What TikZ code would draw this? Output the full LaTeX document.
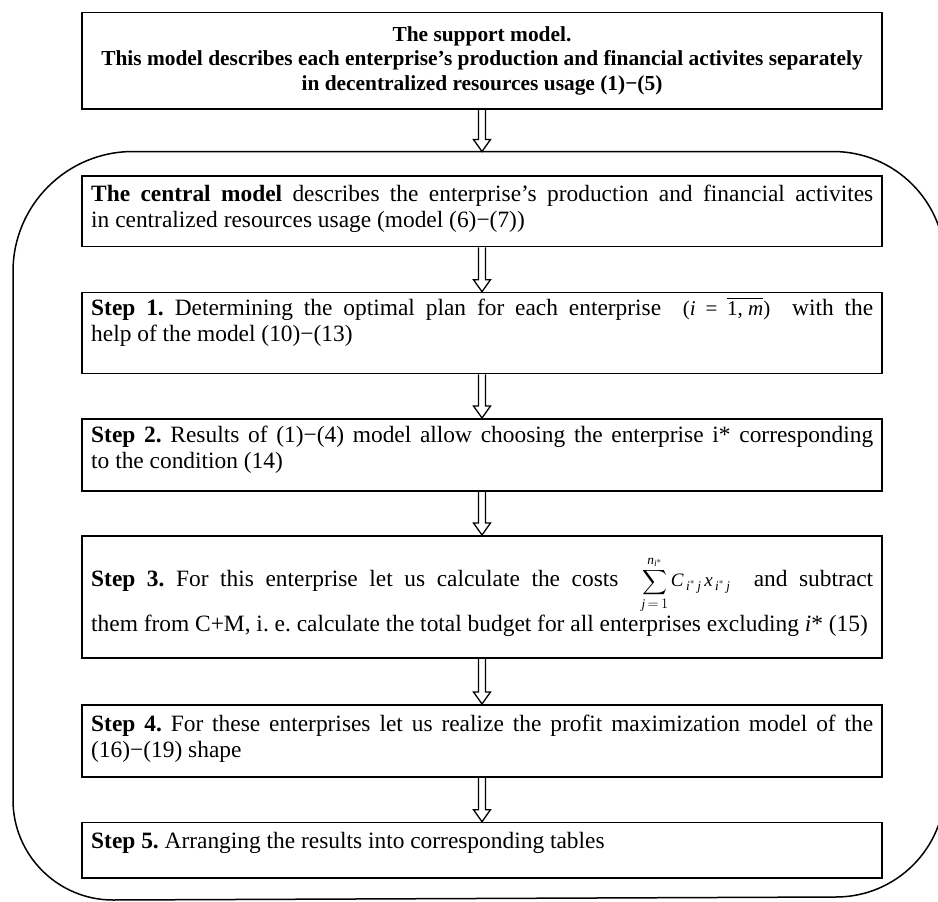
\documentclass[tikz,border=0pt]{standalone}
\usepackage{amsmath}
\usepackage{fontspec}
\setmainfont{Liberation Serif}
\frenchspacing
\newcommand\ti[1]{\text{\itshape #1}}
\newcommand\blockarrow[2]{\draw[blk] ([xshift=-3.5pt]#1) -- ([xshift=-3.5pt,yshift=12pt]#2) -- ([xshift=-8.5pt,yshift=12pt]#2) -- (#2) -- ([xshift=8.5pt,yshift=12pt]#2) -- ([xshift=3.5pt,yshift=12pt]#2) -- ([xshift=3.5pt]#1);}
\begin{document}
\begin{tikzpicture}[x=1pt,y=-1pt,
  box/.style={draw,line width=1.6pt,minimum width=800pt,inner sep=0pt,anchor=north},
  txt/.style={text width=782pt,align=justify,inner sep=0pt,anchor=base west,font=\fontsize{23.4}{26}\selectfont\frenchspacing},
  blk/.style={draw,line width=1.3pt,line join=miter},
  container/.style={draw,line width=1.5pt}]
\useasboundingbox (0,0) rectangle (938,902);
\clip (0,0) rectangle (938,902);
% boxes
\node[box,minimum height=96.3pt] (top) at (482,11.7) {};
\node[box,minimum height=70.7pt] (cm) at (482,175) {};
\node[box,minimum height=81pt] (s1) at (482,291.7) {};
\node[box,minimum height=72pt] (s2) at (482,418) {};
\node[box,minimum height=122pt] (s3) at (482,535) {};
\node[box,minimum height=72pt] (s4) at (482,704) {};
\node[box,minimum height=55.3pt] (s5) at (482,821.7) {};
% container
\coordinate (ctop) at (482,151.5);
\draw[container] (133,151.5) -- (833,151.5) .. controls (894.9,151.5) and (945,201.6) .. (945,263.5) -- (945,788) .. controls (945,848.2) and (896.2,897) .. (836,897) -- (113,900) .. controls (57.8,900) and (13,855.2) .. (13,800) -- (13,271.5) .. controls (13,205.2) and (66.7,151.5) .. (133,151.5) -- cycle;
% texts
\node[font=\bfseries\fontsize{21.4}{24.5}\selectfont,align=center,inner sep=0pt] (toptxt) at (top.center) {The support model.\\ This model describes each enterprise’s production and financial activites separately\\ in decentralized resources usage (1)−(5)};
\node[txt] (cmt) at (91,201.7) {\textbf{The central model} describes the enterprise’s production and financial activites\linebreak in centralized resources usage (model (6)−(7))};
\node[txt] (t1) at (91,315) {\textbf{Step 1.} Determining the optimal plan for each enterprise \ {\fontsize{21}{21}\selectfont(\textit{i} = $\overline{\text{1, \itshape m}}$)}\ \ with the\linebreak help of the model (10)−(13)};
\node[txt] (t2) at (91,442) {\textbf{Step 2.} Results of (1)−(4) model allow choosing the enterprise i* corresponding\linebreak to the condition (14)};
\node[txt,font=\fontsize{23.4}{45}\selectfont\frenchspacing] (t3) at (91,586.7) {\textbf{Step 3.} For this enterprise let us calculate the costs \ {\fontsize{19}{19}\selectfont$\displaystyle\sum_{\ti{j}\,=\,1}^{\ti{n}_{\ti{i}^{*}}}\ti{C}_{\,\ti{i}^{*}\,\ti{j}}\,\ti{x}_{\,\ti{i}^{*}\,\ti{j}}$}\ \ and subtract\linebreak them from C+M, i. e. calculate the total budget for all enterprises excluding \textit{i}* (15)};
\node[txt] (t4) at (91,731.7) {\textbf{Step 4.} For these enterprises let us realize the profit maximization model of the\linebreak (16)−(19) shape};
\node[txt] (t5) at (91,848) {\textbf{Step 5.} Arranging the results into corresponding tables};
% arrows
\blockarrow{top.south}{ctop}
\blockarrow{cm.south}{s1.north}
\blockarrow{s1.south}{s2.north}
\blockarrow{s2.south}{s3.north}
\blockarrow{s3.south}{s4.north}
\blockarrow{s4.south}{s5.north}
\end{tikzpicture}
\end{document}
